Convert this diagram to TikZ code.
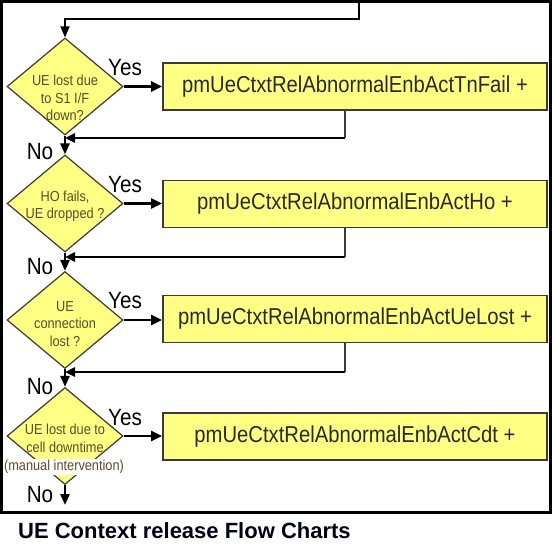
\documentclass[tikz,border=0pt]{standalone}
\usepackage{fontspec}
\setmainfont{Liberation Sans}
\newfontfamily\cond[FakeStretch=0.88]{Liberation Sans}
\usetikzlibrary{shapes.geometric,arrows.meta}
\definecolor{boxfill}{HTML}{FFFF84}
\definecolor{dtext}{HTML}{5B4B2B}
\definecolor{btext}{HTML}{2A2A2A}
\definecolor{bord}{HTML}{3A3A3A}
\tikzset{
  conn/.style={line width=2.5pt,-{Triangle[length=11pt,width=10pt]}},
  plainline/.style={line width=2.5pt},
  decision/.style={diamond,draw=bord,line width=1.2pt,fill=boxfill,inner sep=0pt,minimum width=116pt,minimum height=97pt},
  counter/.style={rectangle,draw=bord,line width=1.8pt,fill=boxfill,minimum width=384pt,minimum height=47pt,inner sep=0pt,text=btext,font=\cond\fontsize{23}{27}\selectfont},
  dlabel/.style={align=center,text=dtext,inner sep=0pt,font=\cond\fontsize{14.5}{17.5}\selectfont},
  yn/.style={inner sep=0pt,text=black,font=\cond\fontsize{23.5}{27}\selectfont},
}
\begin{document}
\begin{tikzpicture}[x=1pt,y=-1pt]
\useasboundingbox (0,0) rectangle (553,549);
\fill[white] (0,0) rectangle (553,549);
\draw[line width=3pt] (1.5,1.5) rectangle (550.5,512);

% decisions
\node[decision] (d1) at (65,86.5) {};
\node[decision] (d2) at (65,203.5) {};
\node[decision] (d3) at (65,320) {};
\node[decision] (d4) at (65,436) {};

\node[dlabel] (t1) at (65,98) {UE lost due\\to S1 I/F\\down?};
\node[dlabel] (t2) at (65,206) {HO fails,\\UE dropped ?};
\node[dlabel] (t3) at (65,324) {UE\\connection\\lost ?};
\node[dlabel] (t4) at (65,438.5) {UE lost due to\\cell downtime};
\node[dlabel,fill=white,inner sep=1.5pt] (t4b) at (64,467) {(manual intervention)};

% counters
\node[counter] (b1) at (355,86.5) {pmUeCtxtRelAbnormalEnbActTnFail +};
\node[counter] (b2) at (355,204) {pmUeCtxtRelAbnormalEnbActHo +};
\node[counter] (b3) at (355,319) {pmUeCtxtRelAbnormalEnbActUeLost +};
\node[counter] (b4) at (355,436.5) {pmUeCtxtRelAbnormalEnbActCdt +};

% entry
\coordinate (top) at (359,2);
\coordinate (tc) at (359,19);
\draw[line width=1.5pt,-{Triangle[length=11pt,width=9pt]}] (top) -- (tc) -- (tc -| d1.north) -- (d1.north);

% yes arrows
\draw[conn] (d1.east) -- (d1.east -| b1.west);
\draw[conn] (d2.east) -- (d2.east -| b2.west);
\draw[conn] (d3.east) -- (d3.east -| b3.west);
\draw[conn] (d4.east) -- (d4.east -| b4.west);

% no arrows
\coordinate (endpt) at (65,505);
\draw[conn,-{Triangle[length=11pt,width=9pt]}] (d1.south) -- (d2.north);
\draw[conn,-{Triangle[length=11pt,width=9pt]}] (d2.south) -- (d3.north);
\draw[conn,-{Triangle[length=11pt,width=9pt]}] (d3.south) -- (d4.north);
\draw[conn,-{Triangle[length=11pt,width=9pt]}] (d4.south) -- (endpt);

% return lines
\coordinate (r1) at (345,138);
\coordinate (r2) at (345,257);
\coordinate (r3) at (345,372);
\draw[line width=1.8pt,draw=bord] (b1.south -| r1) -- (r1);
\draw[line width=1.8pt,draw=bord] (b2.south -| r2) -- (r2);
\draw[line width=1.8pt,draw=bord] (b3.south -| r3) -- (r3);
\draw[conn,-{Triangle[length=10pt,width=9pt]}] (r1) -- (r1 -| d1.south);
\draw[conn,-{Triangle[length=10pt,width=9pt]}] (r2) -- (r2 -| d2.south);
\draw[conn,-{Triangle[length=10pt,width=9pt]}] (r3) -- (r3 -| d3.south);

% labels
\node[yn] (y1) at (125,68) {Yes};
\node[yn] (y2) at (125,185) {Yes};
\node[yn] (y3) at (125,301) {Yes};
\node[yn] (y4) at (125,418) {Yes};
\node[yn] (n1) at (40,152) {No};
\node[yn] (n2) at (40,267) {No};
\node[yn] (n3) at (40,387) {No};
\node[yn] (n4) at (40,495) {No};

\node[anchor=west,inner sep=0pt,font=\bfseries\fontsize{22}{25}\selectfont,text=black!90!blue] (cap) at (18,531) {UE Context release Flow Charts};
\end{tikzpicture}
\end{document}
